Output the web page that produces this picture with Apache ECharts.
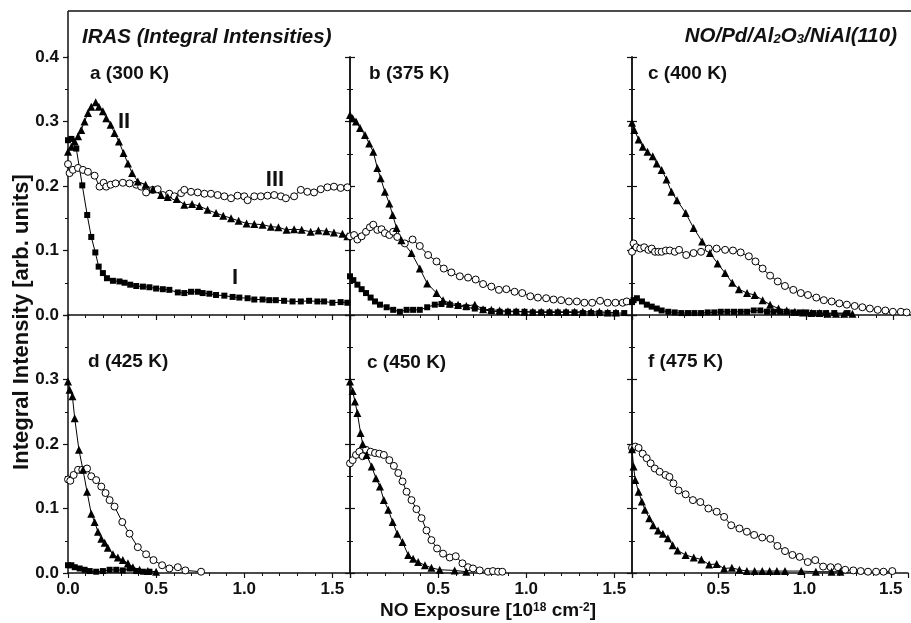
<!DOCTYPE html>
<html>
<head>
<meta charset="utf-8">
<script src="https://cdn.jsdelivr.net/npm/echarts@6/dist/echarts.min.js"></script>
<style>
  html, body { margin: 0; background: #fff; }
  #chart { width: 911px; height: 623px; }
</style>
</head>
<body>
<div id="chart"></div>
<script>
// panel titles, row-major: a b c / d e f
const panelLabels = ['a (300 K)', 'b (375 K)', 'c (400 K)', 'd (425 K)', 'c (450 K)', 'f (475 K)']

// [exposure, intensity]
// I = squares, II = triangles, III = open circles
const a_I = [[0,0.271],[0.019,0.273],[0.047,0.258],[0.081,0.201],[0.109,0.155],[0.132,0.121],[0.155,0.097],[0.174,0.075],[0.198,0.065],[0.221,0.057],[0.255,0.053],[0.292,0.052],[0.321,0.05],[0.353,0.047],[0.387,0.045],[0.425,0.044],[0.462,0.043],[0.5,0.041],[0.538,0.04],[0.575,0.039],[0.623,0.035],[0.66,0.034],[0.698,0.036],[0.736,0.036],[0.764,0.034],[0.802,0.033],[0.84,0.031],[0.887,0.03],[0.934,0.028],[0.972,0.027],[1.019,0.026],[1.057,0.024],[1.104,0.024],[1.142,0.023],[1.179,0.023],[1.226,0.022],[1.274,0.021],[1.321,0.021],[1.368,0.022],[1.415,0.021],[1.453,0.021],[1.5,0.019],[1.547,0.02],[1.585,0.019]]
const a_II = [[0,0.253],[0.019,0.261],[0.038,0.269],[0.057,0.277],[0.075,0.287],[0.094,0.3],[0.113,0.313],[0.132,0.323],[0.157,0.33],[0.175,0.323],[0.198,0.316],[0.217,0.305],[0.242,0.295],[0.264,0.282],[0.289,0.269],[0.315,0.251],[0.34,0.235],[0.364,0.22],[0.396,0.207],[0.44,0.202],[0.481,0.195],[0.528,0.186],[0.566,0.183],[0.617,0.18],[0.66,0.171],[0.704,0.172],[0.745,0.169],[0.792,0.163],[0.84,0.158],[0.881,0.154],[0.925,0.15],[0.968,0.146],[1.013,0.142],[1.057,0.141],[1.104,0.14],[1.151,0.137],[1.194,0.136],[1.24,0.132],[1.283,0.133],[1.326,0.132],[1.377,0.129],[1.421,0.131],[1.466,0.13],[1.509,0.128],[1.557,0.126],[1.585,0.122]]
const a_III = [[0,0.234],[0.009,0.22],[0.028,0.225],[0.057,0.228],[0.085,0.225],[0.113,0.222],[0.151,0.216],[0.179,0.199],[0.202,0.205],[0.217,0.199],[0.242,0.202],[0.27,0.204],[0.311,0.205],[0.349,0.204],[0.387,0.202],[0.415,0.199],[0.443,0.19],[0.481,0.194],[0.509,0.195],[0.538,0.186],[0.575,0.188],[0.604,0.184],[0.642,0.189],[0.66,0.194],[0.698,0.191],[0.736,0.19],[0.774,0.188],[0.811,0.188],[0.849,0.186],[0.887,0.184],[0.925,0.181],[0.962,0.185],[1.0,0.184],[1.019,0.178],[1.057,0.184],[1.094,0.184],[1.132,0.185],[1.17,0.186],[1.208,0.184],[1.236,0.181],[1.283,0.184],[1.321,0.194],[1.358,0.191],[1.396,0.19],[1.434,0.195],[1.472,0.198],[1.509,0.199],[1.547,0.197],[1.585,0.198]]

const b_I = [[0,0.06],[0.019,0.054],[0.042,0.047],[0.066,0.04],[0.091,0.034],[0.117,0.027],[0.142,0.021],[0.17,0.016],[0.208,0.012],[0.245,0.008],[0.283,0.005],[0.321,0.008],[0.358,0.008],[0.396,0.008],[0.438,0.012],[0.481,0.016],[0.519,0.017],[0.566,0.016],[0.613,0.014],[0.66,0.012],[0.708,0.01],[0.755,0.008],[0.802,0.006],[0.849,0.005],[0.896,0.005],[0.943,0.005],[0.99,0.005],[1.037,0.004],[1.085,0.004],[1.132,0.004],[1.179,0.004],[1.226,0.004],[1.274,0.004],[1.321,0.003],[1.368,0.003],[1.415,0.003],[1.462,0.003],[1.509,0.003],[1.556,0.003]]
const b_II = [[0,0.31],[0.015,0.305],[0.034,0.3],[0.057,0.29],[0.085,0.279],[0.109,0.266],[0.132,0.253],[0.155,0.228],[0.174,0.212],[0.198,0.191],[0.223,0.173],[0.242,0.155],[0.264,0.135],[0.292,0.116],[0.349,0.096],[0.396,0.072],[0.438,0.049],[0.491,0.034],[0.528,0.023],[0.566,0.018],[0.613,0.016],[0.66,0.014],[0.708,0.016],[0.755,0.009],[0.802,0.008],[0.849,0.007],[0.896,0.006],[0.943,0.006],[0.99,0.005],[1.037,0.005],[1.085,0.005],[1.132,0.005],[1.179,0.005],[1.226,0.005],[1.274,0.005],[1.321,0.005],[1.368,0.005],[1.415,0.005],[1.462,0.004],[1.509,0.004]]
const b_III = [[0,0.122],[0.023,0.124],[0.042,0.117],[0.066,0.122],[0.091,0.129],[0.113,0.136],[0.132,0.14],[0.155,0.132],[0.179,0.133],[0.198,0.127],[0.223,0.124],[0.245,0.129],[0.268,0.121],[0.311,0.111],[0.355,0.117],[0.396,0.107],[0.443,0.093],[0.491,0.083],[0.532,0.072],[0.575,0.066],[0.623,0.06],[0.67,0.058],[0.713,0.055],[0.755,0.048],[0.802,0.044],[0.845,0.039],[0.887,0.04],[0.934,0.036],[0.977,0.034],[1.023,0.029],[1.066,0.027],[1.113,0.026],[1.155,0.024],[1.198,0.023],[1.242,0.021],[1.287,0.021],[1.33,0.019],[1.374,0.019],[1.419,0.022],[1.462,0.019],[1.506,0.019],[1.547,0.019],[1.57,0.021]]

const c_I = [[0,0.02],[0.009,0.023],[0.028,0.026],[0.057,0.021],[0.085,0.016],[0.113,0.013],[0.142,0.01],[0.17,0.007],[0.208,0.005],[0.245,0.004],[0.283,0.003],[0.321,0.003],[0.358,0.003],[0.396,0.003],[0.434,0.004],[0.472,0.004],[0.509,0.005],[0.547,0.005],[0.585,0.005],[0.623,0.005],[0.66,0.005],[0.698,0.007],[0.736,0.007],[0.774,0.005],[0.811,0.005],[0.849,0.005],[0.887,0.005],[0.925,0.004],[0.962,0.004],[1.0,0.004],[1.038,0.003],[1.075,0.003],[1.113,0.003],[1.16,0.003],[1.236,0.003]]
const c_II = [[0,0.298],[0.013,0.287],[0.038,0.272],[0.062,0.261],[0.089,0.253],[0.119,0.246],[0.142,0.235],[0.17,0.225],[0.198,0.21],[0.226,0.191],[0.258,0.178],[0.308,0.158],[0.353,0.135],[0.402,0.114],[0.447,0.096],[0.491,0.08],[0.534,0.065],[0.575,0.05],[0.613,0.04],[0.66,0.034],[0.704,0.031],[0.749,0.023],[0.792,0.016],[0.84,0.01],[0.887,0.007],[0.934,0.005],[0.981,0.004],[1.028,0.003],[1.075,0.003],[1.122,0.002],[1.17,0.002],[1.217,0.002],[1.264,0.002]]
const c_III = [[0,0.098],[0.009,0.111],[0.025,0.105],[0.047,0.103],[0.07,0.105],[0.094,0.101],[0.113,0.103],[0.132,0.098],[0.151,0.098],[0.17,0.098],[0.194,0.1],[0.217,0.1],[0.245,0.098],[0.27,0.101],[0.311,0.093],[0.353,0.096],[0.396,0.098],[0.44,0.103],[0.485,0.103],[0.534,0.101],[0.579,0.1],[0.623,0.097],[0.67,0.091],[0.708,0.083],[0.749,0.072],[0.792,0.061],[0.836,0.052],[0.877,0.045],[0.925,0.039],[0.968,0.034],[1.009,0.031],[1.057,0.027],[1.1,0.023],[1.145,0.021],[1.189,0.018],[1.232,0.016],[1.277,0.014],[1.321,0.012],[1.364,0.01],[1.409,0.008],[1.453,0.007],[1.496,0.005],[1.542,0.005],[1.575,0.004]]

const d_I = [[0,0.012],[0.019,0.012],[0.038,0.009],[0.066,0.007],[0.094,0.005],[0.123,0.003],[0.16,0.002],[0.198,0.003],[0.236,0.005],[0.274,0.005],[0.311,0.004],[0.349,0.007],[0.387,0.003],[0.425,0.002],[0.462,0.002]]
const d_II = [[0,0.297],[0.009,0.284],[0.025,0.274],[0.038,0.24],[0.062,0.191],[0.085,0.16],[0.108,0.126],[0.132,0.092],[0.151,0.079],[0.17,0.064],[0.189,0.053],[0.208,0.047],[0.226,0.039],[0.255,0.029],[0.283,0.024],[0.311,0.02],[0.34,0.015],[0.368,0.009],[0.406,0.005],[0.453,0.003],[0.5,0.002]]
const d_III = [[0,0.145],[0.013,0.143],[0.032,0.152],[0.057,0.16],[0.081,0.16],[0.108,0.162],[0.132,0.15],[0.16,0.144],[0.189,0.134],[0.213,0.124],[0.236,0.113],[0.264,0.103],[0.308,0.079],[0.349,0.061],[0.396,0.04],[0.443,0.029],[0.485,0.02],[0.534,0.012],[0.575,0.007],[0.623,0.009],[0.666,0.004],[0.755,0.002]]

const e_II = [[0,0.297],[0.015,0.282],[0.028,0.266],[0.042,0.248],[0.06,0.217],[0.072,0.2],[0.094,0.183],[0.123,0.165],[0.147,0.147],[0.17,0.134],[0.192,0.113],[0.217,0.098],[0.242,0.079],[0.268,0.061],[0.298,0.048],[0.33,0.028],[0.358,0.022],[0.387,0.017],[0.425,0.012],[0.462,0.008],[0.509,0.005],[0.594,0.004],[0.66,0.002]]
const e_III = [[0,0.17],[0.015,0.175],[0.034,0.183],[0.053,0.188],[0.072,0.181],[0.091,0.191],[0.117,0.188],[0.142,0.186],[0.166,0.185],[0.192,0.183],[0.223,0.175],[0.249,0.166],[0.274,0.155],[0.298,0.142],[0.321,0.126],[0.349,0.113],[0.377,0.099],[0.406,0.085],[0.434,0.066],[0.462,0.051],[0.494,0.038],[0.528,0.03],[0.566,0.024],[0.6,0.026],[0.638,0.015],[0.67,0.009],[0.698,0.007],[0.736,0.004],[0.783,0.002],[0.811,0.003],[0.84,0.002],[0.864,0.002]]

const f_II = [[0,0.192],[0.009,0.165],[0.019,0.144],[0.038,0.126],[0.057,0.111],[0.075,0.098],[0.1,0.085],[0.123,0.074],[0.151,0.066],[0.179,0.061],[0.208,0.054],[0.236,0.043],[0.264,0.035],[0.311,0.028],[0.358,0.024],[0.402,0.021],[0.447,0.013],[0.491,0.014],[0.534,0.007],[0.579,0.008],[0.623,0.005],[0.666,0.003],[0.711,0.003],[0.755,0.003],[0.798,0.003],[0.84,0.003],[0.887,0.003],[0.981,0.003],[1.066,0.002],[1.157,0.002],[1.208,0.002]]
const f_III = [[0,0.194],[0.019,0.196],[0.038,0.194],[0.062,0.185],[0.085,0.178],[0.108,0.17],[0.132,0.162],[0.16,0.157],[0.194,0.152],[0.217,0.149],[0.24,0.139],[0.27,0.128],[0.311,0.122],[0.353,0.113],[0.396,0.11],[0.443,0.1],[0.491,0.095],[0.534,0.087],[0.575,0.074],[0.623,0.069],[0.666,0.064],[0.708,0.059],[0.755,0.055],[0.802,0.053],[0.843,0.042],[0.887,0.034],[0.93,0.028],[0.972,0.025],[1.019,0.017],[1.062,0.02],[1.108,0.01],[1.151,0.009],[1.194,0.009],[1.236,0.005],[1.283,0.004],[1.326,0.003],[1.368,0.002],[1.415,0.002],[1.458,0.002],[1.509,0.003]]

const panelSeries = [
  { I: a_I, II: a_II, III: a_III },
  { I: b_I, II: b_II, III: b_III },
  { I: c_I, II: c_II, III: c_III },
  { I: d_I, II: d_II, III: d_III },
  { II: e_II, III: e_III },
  { II: f_II, III: f_III }
]

const FONT = '"Liberation Sans", Arial, sans-serif'
const colX = [68, 350, 632]
const rowY = [57, 315]
const PW = 282, PH = 258

const chart = echarts.init(document.getElementById('chart'), null, { renderer: 'canvas' })

const lineCol = '#111'
const tickLabel = { color: '#111', fontFamily: FONT, fontWeight: 'bold', fontSize: 17 }

const grids = [], xAxes = [], yAxes = [], series = []
panelSeries.forEach((p, i) => {
  const row = Math.floor(i / 3), col = i % 3
  grids.push({ left: colX[col], top: rowY[row], width: PW, height: PH })
  xAxes.push({
    gridIndex: i, type: 'value', min: 0, max: 1.6, interval: 0.5,
    axisLine: { lineStyle: { color: lineCol, width: 1.5 } },
    axisTick: { length: 5, lineStyle: { color: lineCol, width: 1.2 } },
    minorTick: { show: true, splitNumber: 5, length: 3, lineStyle: { color: lineCol, width: 1 } },
    splitLine: { show: false },
    axisLabel: {
      show: row === 1, margin: 8, ...tickLabel,
      showMinLabel: col === 0,
      formatter: v => Math.abs(v * 2 - Math.round(v * 2)) < 1e-6 ? v.toFixed(1) : ''
    }
  })
  const yBase = {
    gridIndex: i, type: 'value', min: 0, max: 0.4, interval: 0.1,
    axisLine: { show: true, lineStyle: { color: lineCol, width: 1.5 } },
    axisTick: { show: true, length: 5, lineStyle: { color: lineCol, width: 1.2 } },
    minorTick: { show: true, splitNumber: 2, length: 3, lineStyle: { color: lineCol, width: 1 } },
    splitLine: { show: false }
  }
  yAxes.push({
    ...yBase, position: 'left',
    axisLabel: {
      show: col === 0, margin: 9, ...tickLabel,
      showMaxLabel: row === 0,
      formatter: v => v.toFixed(1)
    }
  })
  // mirror axis on the right; the last column runs past the picture edge
  yAxes.push({ ...yBase, position: 'right', show: col < 2, axisLabel: { show: false } })

  const common = {
    type: 'line', xAxisIndex: i, yAxisIndex: 2 * i, clip: false,
    lineStyle: { color: '#000', width: 1 }, emphasis: { disabled: true }, silent: true
  }
  if (p.III) series.push({ ...common, name: 'III', data: p.III, symbol: 'circle', symbolSize: 7,
    itemStyle: { color: '#fff', borderColor: '#000', borderWidth: 1 } })
  if (p.II) series.push({ ...common, name: 'II', data: p.II, symbol: 'triangle', symbolSize: 8,
    itemStyle: { color: '#000' } })
  if (p.I) series.push({ ...common, name: 'I', data: p.I, symbol: 'rect', symbolSize: 6,
    itemStyle: { color: '#000' } })
})

const labelPos = [[90, 74], [369, 74], [648, 74], [88, 362], [367, 363], [648, 362]]
const txt = (x, y, text, size, extra) => ({
  type: 'text', x, y, z: 100, silent: true,
  style: { text, fill: '#111', fontFamily: FONT, fontWeight: 'bold', fontSize: size,
    align: 'left', verticalAlign: 'middle', textAlign: 'left', textVerticalAlign: 'middle', ...extra }
})

const graphic = [
  { type: 'line', z: 50, shape: { x1: 68, y1: 11, x2: 911, y2: 11 }, style: { stroke: lineCol, lineWidth: 1.5 } },
  { type: 'line', z: 50, shape: { x1: 68, y1: 11, x2: 68, y2: 57 }, style: { stroke: lineCol, lineWidth: 1.5 } },
  txt(82, 37, 'IRAS (Integral Intensities)', 20.5, { fontStyle: 'italic' }),
  txt(897, 36, 'NO/Pd/Al{sub|2}O{sub|3}/NiAl(110)', 20.5, {
    fontStyle: 'italic', align: 'right', textAlign: 'right',
    rich: { sub: { fontFamily: FONT, fontWeight: 'bold', fontStyle: 'italic', fontSize: 13, verticalAlign: 'bottom', lineHeight: 8 } }
  }),
  txt(124, 122, 'II', 22, { align: 'center', textAlign: 'center' }),
  txt(275, 180, 'III', 22, { align: 'center', textAlign: 'center' }),
  txt(235, 278, 'I', 22, { align: 'center', textAlign: 'center' }),
  txt(488, 611, 'NO Exposure [10{sup|18} cm{sup|-2}]', 19, {
    align: 'center', textAlign: 'center',
    rich: { sup: { fontFamily: FONT, fontWeight: 'bold', fontSize: 12, verticalAlign: 'top', lineHeight: 6 } }
  }),
  { ...txt(22, 322, 'Integral Intensity [arb. units]', 22, { align: 'center', textAlign: 'center' }), rotation: Math.PI / 2 }
]
panelLabels.forEach((t, i) => graphic.push(txt(labelPos[i][0], labelPos[i][1], t, 19)))

chart.setOption({
  animation: false,
  backgroundColor: '#fff',
  grid: grids,
  xAxis: xAxes,
  yAxis: yAxes,
  series,
  graphic
})
</script>
</body>
</html>
